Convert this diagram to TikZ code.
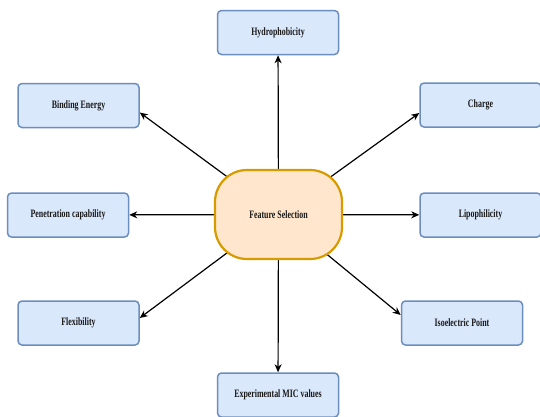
\documentclass[tikz,border=0pt]{standalone}
\usepackage{fontspec}
\setmainfont{Liberation Serif}[FakeStretch=0.7]
\usetikzlibrary{arrows.meta,backgrounds}

\definecolor{boxfill}{HTML}{DAE8FC}
\definecolor{boxline}{HTML}{6C8EBF}
\definecolor{selfill}{HTML}{FFE6CC}
\definecolor{selline}{HTML}{D79B00}

\tikzset{
  feat/.style={draw=boxline,fill=boxfill,line width=1.5pt,rounded corners=4pt,
    minimum width=121pt,minimum height=44pt,text=black!90,
    font=\fontsize{11.3pt}{13pt}\selectfont\bfseries},
  sel/.style={draw=selline,fill=selfill,line width=2.2pt,rounded corners=32pt,
    minimum width=127pt,minimum height=89pt,text=black!90,
    font=\fontsize{11.3pt}{13pt}\selectfont\bfseries},
  arr/.style={-{Stealth[length=8pt,width=7pt,inset=2.5pt]},line width=1.2pt}
}

\begin{document}
\begin{tikzpicture}[x=1pt,y=-1pt]
        \useasboundingbox (0,0) rectangle (540,416);
        \node[sel] (fs) at (278.5,214.5) {Feature Selection};
        \node[feat] (hy) at (278,32.5) {Hydrophobicity};
        \node[feat] (be) at (78.5,105.5) {Binding Energy};
        \node[feat] (ch) at (480.5,105) {Charge};
        \node[feat] (pc) at (68,215) {Penetration capability};
        \node[feat] (li) at (480.5,215) {Lipophilicity};
        \node[feat] (fl) at (78.5,323) {Flexibility};
        \node[feat] (ip) at (462,323) {Isoelectric Point};
        \node[feat] (mic) at (278,395) {Experimental MIC values};
        \begin{scope}[on background layer]
        \fill[white] (0,0) rectangle (540,416);
        \draw[arr] (fs.center) -- (hy);
        \draw[arr] (fs.center) -- ([yshift=-7pt]be.east);
        \draw[arr] (fs.center) -- ([yshift=-8pt]ch.west);
        \draw[arr] (fs.center) -- (pc);
        \draw[arr] (fs.center) -- (li);
        \draw[arr] (fs.center) -- ([yshift=5pt]fl.east);
        \draw[arr] (fs.center) -- ([yshift=8pt]ip.west);
        \draw[arr] (fs.center) -- (mic);
        \end{scope}
\end{tikzpicture}
\end{document}
